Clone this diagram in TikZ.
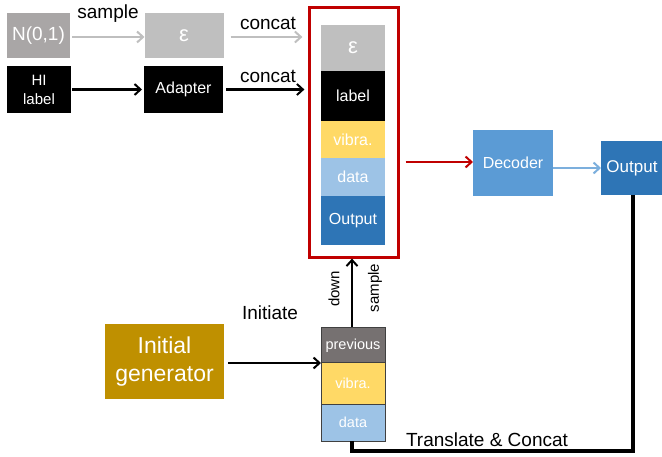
\documentclass[tikz,border=0pt]{standalone}
\usepackage{fontspec}
\setmainfont{Liberation Sans}
\usetikzlibrary{arrows.meta,calc}
\definecolor{ngray}{HTML}{A9A6A6}
\definecolor{egray}{HTML}{BFBFBF}
\definecolor{vyel}{HTML}{FFD966}
\definecolor{dblue}{HTML}{9DC3E6}
\definecolor{oblue}{HTML}{2E75B6}
\definecolor{decblue}{HTML}{5B9BD5}
\definecolor{pgray}{HTML}{767171}
\definecolor{gold}{HTML}{BF9000}
\definecolor{redb}{HTML}{C00000}
\newcommand\fsz[2]{\fontsize{#1}{#2}\selectfont}
\tikzset{
  box/.style={rectangle, inner sep=0pt, outer sep=0pt, text=white, align=center, font=\fsz{16}{19}},
  cell/.style={box, minimum width=64},
  pcell/.style={box, minimum width=64, draw=black!75, line width=1pt, font=\fsz{14.5}{17}},
  arr/.style={-{Straight Barb[length=6pt,width=11pt,line width=2pt]}, line width=2.1pt},
  lbl/.style={inner sep=0pt, font=\fsz{19}{22}},
  rlbl/.style={inner sep=0pt, font=\fsz{15}{18}, rotate=90},
}
\begin{document}
\begin{tikzpicture}[x=1pt,y=-1pt]
\useasboundingbox (0,0) rectangle (662,457);
% top rows
\node[box, fill=ngray, minimum width=63, minimum height=45, font=\fsz{19}{22}] (n) at (38.5,35.5) {N(0,1)};
\node[box, fill=egray, minimum width=79, minimum height=45, font=\fsz{22}{24}] (e) at (184,35.5) {ε};
\node[box, fill=black, minimum width=64, minimum height=47, font=\fsz{15}{19}] (hi) at (39,89.5) {HI\\label};
\node[box, fill=black, minimum width=79, minimum height=47] (ad) at (183.5,89.5) {Adapter};
% big stack
\node[cell, fill=egray, minimum height=46, font=\fsz{22}{24}] (se) at (353,48) {ε};
\node[cell, fill=black, minimum height=50] (sl) at (353,96) {label};
\node[cell, fill=vyel, minimum height=37] (sv) at (353,139.5) {vibra.};
\node[cell, fill=dblue, minimum height=38] (sd) at (353,177) {data};
\node[cell, fill=oblue, minimum height=49] (so) at (353,220.5) {Output};
\node[draw=redb, line width=2.2pt, minimum width=89, minimum height=250, inner sep=0pt] (red) at (354,132.5) {};
% decoder and output
\node[box, fill=decblue, minimum width=80, minimum height=66] (dec) at (513,163) {Decoder};
\node[box, fill=oblue, minimum width=62, minimum height=54, font=\fsz{17}{19}] (out) at (632,168) {Output};
% small stack
\node[pcell, fill=pgray, minimum height=35] (pp) at (353,345.5) {previous};
\node[pcell, fill=vyel, minimum height=41] (pv) at (353,383.5) {vibra.};
\node[pcell, fill=dblue, minimum height=37] (pd) at (353,422.5) {data};
% initial generator
\node[box, fill=gold, minimum width=119, minimum height=75, font=\fsz{23}{28}] (ig) at (164.5,361.5) {Initial\\generator};
% labels
\node[lbl] (l1) at (108,14) {sample};
\node[lbl] (l2) at (268,23) {concat};
\node[lbl] (l3) at (268,76) {concat};
\node[lbl] (l4) at (270,313) {Initiate};
\node[lbl] (l5) at (487,440) {Translate \& Concat};
\node[rlbl] (l6) at (334,289) {down};
\node[rlbl] (l7) at (375,288) {sample};
% connectors
\draw[arr, draw=egray] ([yshift=-1.5]n.east) ++(2,0) -- ([yshift=-1.5]e.west) ;
\draw[arr, draw=egray, shorten <=7pt, shorten >=6pt] ([yshift=-1.5]e.east) -- ([yshift=-1.5]e.east -| red.west);
\draw[arr, shorten <=1pt, shorten >=2pt] (hi.east) -- (ad.west);
\draw[arr, shorten <=3pt, shorten >=4pt] (ad.east) -- (ad.east -| red.west);
\draw[arr, draw=redb, shorten <=6pt] ([yshift=1]red.east |- dec.west) -- ([yshift=1]dec.west);
\draw[arr, draw=decblue!80, line width=1.8pt] (dec.east |- out.west) -- (out.west);
\draw[arr, shorten <=1pt] ([xshift=-1]pp.north) -- ([xshift=-1]pp.north |- red.south);
\draw[arr, shorten <=4pt] (ig.east |- pp.south west) -- (pp.south west);
\coordinate (bot) at (0,451);
\draw[line width=3.6pt] ([xshift=1]out.south) -- ([xshift=1]out.south |- bot) -- ([xshift=-1]pd.south |- bot) -- ([xshift=-1]pd.south);
\end{tikzpicture}
\end{document}
